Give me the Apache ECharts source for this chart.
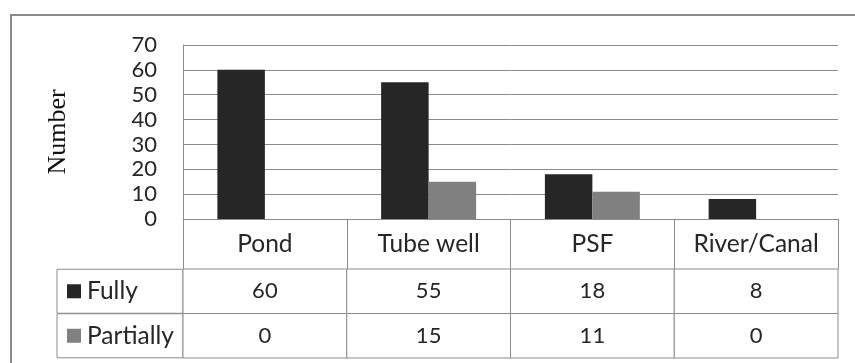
<!DOCTYPE html>
<html>
<head>
<meta charset="utf-8">
<script src="https://cdn.jsdelivr.net/npm/echarts@6/dist/echarts.min.js"></script>
<style>
  html, body { margin: 0; padding: 0; background: #fff; }
  #chart { width: 855px; height: 363px; }
</style>
</head>
<body>
<div id="chart"></div>
<script>
const categories = ['Pond', 'Tube well', 'PSF', 'River/Canal'];
const seriesNames = ['Fully', 'Partially'];
const fully = [60, 55, 18, 8];
const partially = [0, 15, 11, 0];
const yTicks = [0, 10, 20, 30, 40, 50, 60, 70];

const colors = ['#262626', '#808080'];
const lineGray = '#8c8c8c';
const textColor = '#262626';
const font = 'Lato';

// table cells: [column, row, value]
const tableData = [];
[fully, partially].forEach((arr, r) => {
  arr.forEach((v, c) => tableData.push([c, r, v]));
});

let chartDom = document.getElementById('chart');
let myChart = echarts.init(chartDom);
let option = {
  backgroundColor: '#fff',
  animation: false,
  graphic: [
    {
      type: 'rect',
      shape: { x: 11, y: 15, width: 900, height: 400 },
      style: { fill: 'none', stroke: '#8a8a8a', lineWidth: 2 },
      silent: true
    }
  ],
  grid: [
    { left: 183, top: 45, width: 655, height: 174 },   // bars
    { left: 183, top: 269, width: 655, height: 89 }    // data table
  ],
  xAxis: [
    {
      type: 'category',
      gridIndex: 0,
      data: categories,
      axisLine: { lineStyle: { color: lineGray, width: 1 } },
      axisTick: { show: true, length: 50, lineStyle: { color: lineGray } },
      axisLabel: {
        interval: 0,
        fontFamily: font, fontSize: 24.5, color: textColor,
        margin: 13
      }
    },
    {
      type: 'category',
      gridIndex: 1,
      data: categories,
      show: false
    }
  ],
  yAxis: [
    {
      type: 'value',
      gridIndex: 0,
      min: 0,
      max: 70,
      interval: 10,
      name: 'Number',
      nameLocation: 'middle',
      nameRotate: 90,
      nameGap: 112,
      nameTextStyle: { fontFamily: 'Liberation Serif', fontSize: 26, color: '#111' },
      axisLine: { show: true, lineStyle: { color: lineGray } },
      axisTick: { show: false },
      splitLine: { show: true, lineStyle: { color: lineGray, width: 1 } },
      axisLabel: {
        fontFamily: font, fontSize: 22, color: textColor, margin: 26,
        formatter: v => yTicks.includes(v) ? String(v) : ''
      }
    },
    {
      type: 'category',
      gridIndex: 1,
      data: seriesNames,
      inverse: true,
      axisLine: { show: false },
      axisTick: { show: false },
      splitLine: { show: false },
      axisLabel: {
        interval: 0,
        margin: 126,
        align: 'left',
        width: 116,
        padding: [0, 0, 0, 10],
        borderColor: lineGray,
        borderWidth: 1,
        formatter: (v, i) => '{s' + i + '| }{t|' + v + '}',
        rich: {
          s0: { backgroundColor: colors[0], width: 14, height: 14, align: 'left', verticalAlign: 'middle' },
          s1: { backgroundColor: colors[1], width: 14, height: 14, align: 'left', verticalAlign: 'middle' },
          t: { fontFamily: font, fontSize: 24.5, color: textColor, lineHeight: 44, padding: [0, 0, 0, 6], align: 'left', verticalAlign: 'middle' }
        }
      }
    }
  ],
  series: [
    {
      name: seriesNames[0],
      type: 'bar',
      xAxisIndex: 0, yAxisIndex: 0,
      data: fully,
      barGap: '0%',
      barCategoryGap: '42%',
      itemStyle: { color: colors[0] }
    },
    {
      name: seriesNames[1],
      type: 'bar',
      xAxisIndex: 0, yAxisIndex: 0,
      data: partially,
      barGap: '0%',
      barCategoryGap: '42%',
      itemStyle: { color: colors[1] }
    },
    {
      type: 'custom',
      xAxisIndex: 1, yAxisIndex: 1,
      data: tableData,
      renderItem: (params, api) => {
        const c = api.coord([api.value(0), api.value(1)]);
        const s = api.size([1, 1]);
        return {
          type: 'group',
          children: [
            {
              type: 'rect',
              shape: { x: c[0] - s[0] / 2, y: c[1] - s[1] / 2, width: s[0], height: s[1] },
              style: { fill: '#fff', stroke: lineGray, lineWidth: 1 }
            },
            {
              type: 'text',
              x: c[0], y: c[1],
              style: {
                text: String(api.value(2)),
                fontFamily: font, fontSize: 22, fill: textColor,
                align: 'center', verticalAlign: 'middle'
              }
            }
          ]
        };
      }
    }
  ]
};
option && myChart.setOption(option);
</script>
</body>
</html>
